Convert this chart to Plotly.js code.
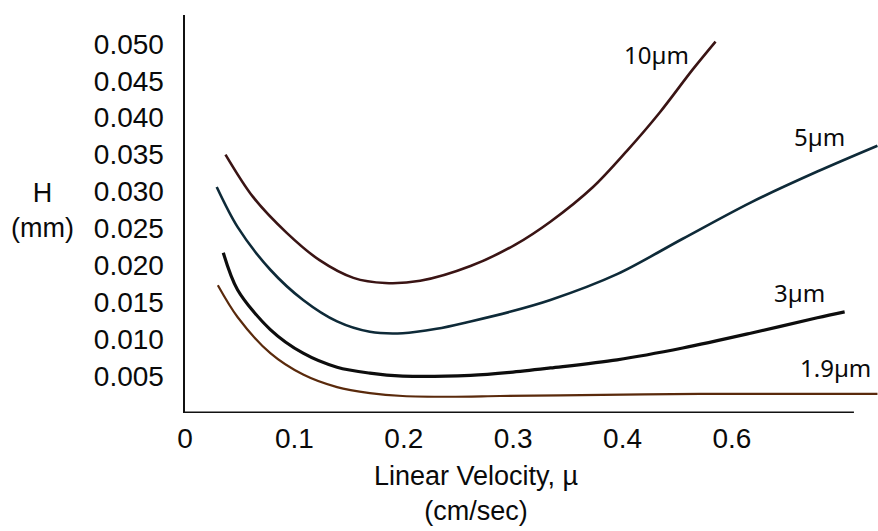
<!DOCTYPE html>
<html>
<head>
<meta charset="utf-8">
<script src="https://cdn.plot.ly/plotly-3.0.1.min.js"></script>
<style>html,body{margin:0;padding:0;background:#fff;}#chart{width:878px;height:531px;}</style>
</head>
<body>
<div id="chart"></div>
<script>
// Linear velocity (axis units) and plate height H (mm)
const x10 = [0.037,0.062,0.093,0.123,0.154,0.183,0.215,0.261,0.302,0.334,0.373,0.404,0.434,0.464,0.485];
const y10 = [0.0350,0.0293,0.0244,0.0207,0.0183,0.0176,0.0179,0.0199,0.0228,0.0259,0.0306,0.0355,0.0407,0.0465,0.0503];

const x5 = [0.029,0.048,0.078,0.108,0.139,0.169,0.199,0.230,0.261,0.297,0.334,0.395,0.455,0.517,0.578,0.633];
const y5 = [0.0306,0.0252,0.0194,0.0153,0.0124,0.0110,0.0108,0.0114,0.0124,0.0137,0.0153,0.0188,0.0236,0.0285,0.0327,0.0362];

const x3 = [0.035,0.048,0.078,0.108,0.139,0.169,0.199,0.261,0.297,0.334,0.395,0.455,0.517,0.578,0.603];
const y3 = [0.0217,0.0167,0.0113,0.0081,0.0062,0.0054,0.0050,0.0051,0.0055,0.0061,0.0072,0.0088,0.0108,0.0129,0.0137];

const x19 = [0.030,0.048,0.078,0.108,0.139,0.169,0.199,0.242,0.288,0.343,0.471,0.633];
const y19 = [0.0173,0.0130,0.0081,0.0052,0.0035,0.0027,0.0023,0.0022,0.0023,0.0024,0.0026,0.0026];

const seriesNames = ['10µm','5µm','3µm','1.9µm'];
const xTickVals = [0,0.1,0.2,0.3,0.4,0.5];
const xTickText = ['0','0.1','0.2','0.3','0.4','0.6'];
const yTickVals = [0.005,0.010,0.015,0.020,0.025,0.030,0.035,0.040,0.045,0.050];
const yTickText = ['0.005','0.010','0.015','0.020','0.025','0.030','0.035','0.040','0.045','0.050'];

const labelPos = [[0.431,0.0485],[0.580,0.0375],[0.562,0.0163],[0.595,0.0062]];
const colors = ['#3a1414','#0e2a38','#0d0d0d','#5a2a0c'];
const widths = [2.6,2.6,3.2,2.2];
const xs = [x10,x5,x3,x19], ys = [y10,y5,y3,y19];

const traces = xs.map((x,i)=>({
  x: x, y: ys[i], type:'scatter', mode:'lines', name: seriesNames[i],
  line:{color:colors[i], width:widths[i], shape:'spline', smoothing:0.9},
  hoverinfo:'skip'
}));

const annotations = seriesNames.map((n,i)=>({
  text:n, x:labelPos[i][0], y:labelPos[i][1], xref:'x', yref:'y',
  showarrow:false, font:{family:'Noto Sans, sans-serif', size:24, color:'#0a0a0a'}
}));
annotations.push({text:'H<br>(mm)', xref:'paper', yref:'paper', x:-0.205, y:0.51,
  xanchor:'center', yanchor:'middle', showarrow:false,
  font:{family:'Liberation Sans, Arial, sans-serif', size:27, color:'#0a0a0a'}});
annotations.push({text:'Linear Velocity, µ<br>(cm/sec)', xref:'paper', yref:'paper', x:0.42, y:-0.115,
  xanchor:'center', yanchor:'top', showarrow:false,
  font:{family:'Liberation Sans Narrow, Liberation Sans, sans-serif', size:27, color:'#0a0a0a'}});

const layout = {
  width:878, height:531,
  margin:{l:185, r:0, t:15, b:118},
  paper_bgcolor:'#fff', plot_bgcolor:'#fff',
  showlegend:false,
  xaxis:{range:[0,0.6335], showgrid:false, zeroline:false, showline:false,
    tickvals:xTickVals, ticktext:xTickText, ticks:'', ticklabelstandoff:6,
    tickfont:{family:'Liberation Sans Narrow, Liberation Sans, sans-serif', size:28, color:'#0a0a0a'}},
  yaxis:{range:[0,0.0539], showgrid:false, zeroline:false, showline:true, linecolor:'#111', linewidth:2.5,
    tickvals:yTickVals, ticktext:yTickText, ticks:'', ticklabelstandoff:13,
    tickfont:{family:'Liberation Sans, Arial, sans-serif', size:28, color:'#0a0a0a'}},
  shapes:[{type:'line', xref:'x', yref:'y', x0:0, x1:0.6115, y0:0, y1:0, line:{color:'#111', width:3}}],
  annotations: annotations
};

Plotly.newPlot('chart', traces, layout, {staticPlot:true, displayModeBar:false});
</script>
</body>
</html>
